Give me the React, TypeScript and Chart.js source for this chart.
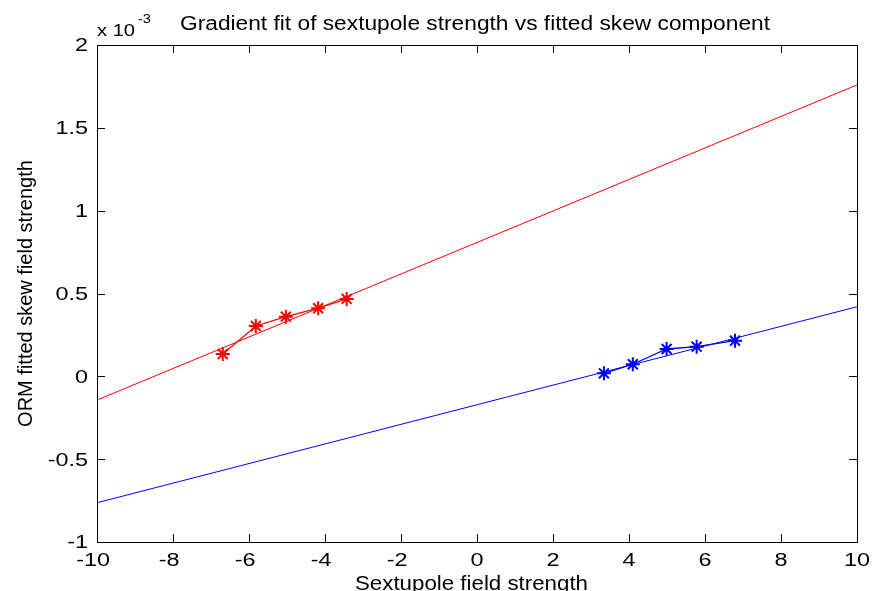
import React, { useEffect, useRef } from "react";
import { Chart, registerables } from "chart.js";

Chart.register(...registerables);

// measured data points (sextupole field strength vs fitted skew, x 1e-3)
const redX = [-6.69, -5.82, -5.03, -4.18, -3.43];
const redY = [0.135, 0.304, 0.36, 0.411, 0.467];
const blueX = [3.34, 4.1, 4.99, 5.78, 6.79];
const blueY = [0.018, 0.073, 0.165, 0.179, 0.215];

// fitted lines (end points at plot limits)
const redFitX = [-10, 10];
const redFitY = [-0.143, 1.759];
const blueFitX = [-10, 10];
const blueFitY = [-0.763, 0.42];

const xTicks = [-10, -8, -6, -4, -2, 0, 2, 4, 6, 8, 10];
const yTicks = [-1, -0.5, 0, 0.5, 1, 1.5, 2];

const titleText = "Gradient fit of sextupole strength vs fitted skew component";
const xLabel = "Sextupole field strength";
const yLabel = "ORM fitted skew field strength";
const expBase = "x 10";
const expPow = "-3";

const FONT = "'Liberation Sans', Arial, sans-serif";

const zip = (xs: number[], ys: number[]) => xs.map((x, i) => ({ x, y: ys[i] }));

function txt(
  ctx: CanvasRenderingContext2D,
  s: string,
  x: number,
  y: number,
  size: number,
  align: CanvasTextAlign,
  sx: number
) {
  ctx.font = `${size}px ${FONT}`;
  ctx.save();
  ctx.translate(x, y);
  ctx.scale(sx, 1);
  ctx.textAlign = align;
  ctx.textBaseline = "alphabetic";
  ctx.fillText(s, 0, 0);
  ctx.restore();
}

function fitScale(ctx: CanvasRenderingContext2D, s: string, size: number, target: number) {
  ctx.font = `${size}px ${FONT}`;
  return target / ctx.measureText(s).width;
}

const TICK_SIZE = 18;
const TICK_SX = 1.3;

const decorPlugin = {
  id: "decor",
  afterDraw(chart: any) {
    const { ctx, chartArea } = chart;
    const { left, right, top, bottom } = chartArea;
    const xs = chart.scales.x;
    const ys = chart.scales.y;
    ctx.save();
    ctx.strokeStyle = "#000";
    ctx.lineWidth = 1;
    ctx.beginPath();
    ctx.rect(Math.round(left) + 0.5, Math.round(top) + 0.5, Math.round(right - left), Math.round(bottom - top));
    ctx.stroke();
    const tl = 8;
    ctx.beginPath();
    xTicks.forEach((v) => {
      const px = Math.round(xs.getPixelForValue(v)) + 0.5;
      ctx.moveTo(px, bottom);
      ctx.lineTo(px, bottom - tl);
      ctx.moveTo(px, top);
      ctx.lineTo(px, top + tl);
    });
    yTicks.forEach((v) => {
      const py = Math.round(ys.getPixelForValue(v)) + 0.5;
      ctx.moveTo(left, py);
      ctx.lineTo(left + tl, py);
      ctx.moveTo(right, py);
      ctx.lineTo(right - tl, py);
    });
    ctx.stroke();

    ctx.fillStyle = "#000";

    // x tick labels: digits centred on tick, minus sign placed in front
    xTicks.forEach((v) => {
      const px = xs.getPixelForValue(v);
      const digits = String(Math.abs(v));
      ctx.font = `${TICK_SIZE}px ${FONT}`;
      const w = ctx.measureText(digits).width * TICK_SX;
      txt(ctx, digits, px, 565.5, TICK_SIZE, "center", TICK_SX);
      if (v < 0) txt(ctx, "-", px - w / 2, 565.5, TICK_SIZE, "right", TICK_SX);
    });
    // y tick labels
    yTicks.forEach((v) => {
      const py = ys.getPixelForValue(v);
      txt(ctx, String(v), 88, py + 0.358 * TICK_SIZE, TICK_SIZE, "right", TICK_SX);
    });

    // title
    txt(ctx, titleText, 180, 29.5, 20, "left", fitScale(ctx, titleText, 20, 590));
    // exponent
    txt(ctx, expBase, 97, 35.5, 17, "left", fitScale(ctx, expBase, 17, 38));
    txt(ctx, expPow, 138, 23, 12, "left", fitScale(ctx, expPow, 12, 13));
    // x label
    txt(ctx, xLabel, 471.5, 590, 21, "center", fitScale(ctx, xLabel, 21, 233));
    // y label
    ctx.save();
    ctx.translate(32, (top + bottom) / 2);
    ctx.rotate(-Math.PI / 2);
    ctx.font = `20px ${FONT}`;
    ctx.textAlign = "center";
    ctx.textBaseline = "alphabetic";
    ctx.fillText(yLabel, 0, 0);
    ctx.restore();
    ctx.restore();
  },
};

export default function App() {
  const ref = useRef<HTMLCanvasElement>(null);
  useEffect(() => {
    document.body.style.margin = "0";
    const chart = new Chart(ref.current as HTMLCanvasElement, {
      type: "scatter",
      data: {
        datasets: [
          {
            data: zip(redFitX, redFitY),
            showLine: true,
            borderColor: "#ff0000",
            borderWidth: 1,
            pointRadius: 0,
          },
          {
            data: zip(redX, redY),
            showLine: true,
            borderColor: "#ff0000",
            backgroundColor: "#ff0000",
            borderWidth: 1.3,
            pointStyle: "star",
            pointRadius: 7,
            pointBorderWidth: 2,
          },
          {
            data: zip(blueFitX, blueFitY),
            showLine: true,
            borderColor: "#0000ff",
            borderWidth: 1,
            pointRadius: 0,
          },
          {
            data: zip(blueX, blueY),
            showLine: true,
            borderColor: "#0000ff",
            backgroundColor: "#0000ff",
            borderWidth: 1.3,
            pointStyle: "star",
            pointRadius: 7,
            pointBorderWidth: 2,
          },
        ] as any,
      },
      options: {
        animation: false,
        responsive: false,
        maintainAspectRatio: false,
        layout: { padding: { left: 0, top: 45, right: 15, bottom: 0 } },
        plugins: {
          legend: { display: false },
          tooltip: { enabled: false },
          title: { display: false },
        },
        scales: {
          x: {
            type: "linear",
            min: -10,
            max: 10,
            afterBuildTicks: (s: any) => {
              s.ticks = xTicks.map((v) => ({ value: v }));
            },
            grid: { display: false, drawTicks: false },
            border: { display: false },
            ticks: { display: false },
            afterFit: (s: any) => {
              s.height = 49;
            },
          },
          y: {
            type: "linear",
            min: -1,
            max: 2,
            afterBuildTicks: (s: any) => {
              s.ticks = yTicks.map((v) => ({ value: v }));
            },
            grid: { display: false, drawTicks: false },
            border: { display: false },
            ticks: { display: false },
            afterFit: (s: any) => {
              s.width = 97;
            },
          },
        },
      } as any,
      plugins: [decorPlugin],
    });
    return () => chart.destroy();
  }, []);
  return (
    <div style={{ position: "fixed", left: 0, top: 0, width: 872, height: 591, background: "#fff" }}>
      <canvas ref={ref} width={872} height={591} style={{ width: 872, height: 591 }} />
    </div>
  );
}
